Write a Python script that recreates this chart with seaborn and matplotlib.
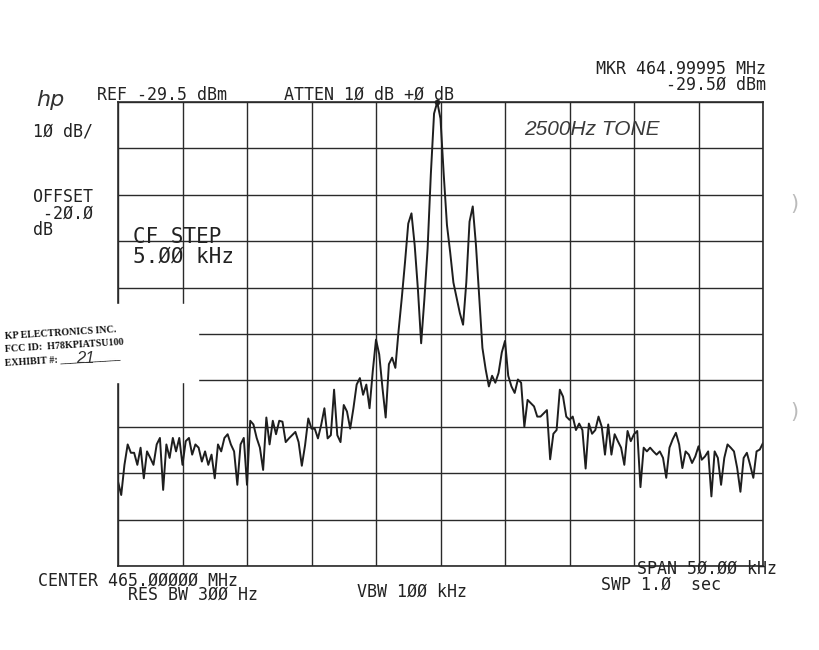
import numpy as np
import pandas as pd
import seaborn as sns
import matplotlib.pyplot as plt
from matplotlib.patches import Rectangle

# --- analyzer settings (from the screen annotations) ---
ref_dbm = -29.5
db_per_div = 10
span_khz = 50.0
n_div = 10

# trace levels in dBm, one point every 0.25 kHz from -25 to +25 kHz
level_dbm = [
    -111.3, -114.2, -107.7, -103.3, -105.1, -105.1, -107.7, -104.0, -110.6, -104.8,
    -106.2, -107.7, -103.3, -101.9, -113.1, -103.3, -106.2, -101.9, -104.8, -101.9,
    -107.7, -102.6, -101.9, -105.5, -103.3, -104.0, -107.0, -104.8, -107.7, -105.5,
    -110.6, -103.3, -104.8, -101.9, -101.1, -103.3, -104.8, -112.0, -103.3, -101.9,
    -112.0, -98.2, -99.0, -101.9, -104.0, -108.8, -97.5, -103.3, -98.2, -101.1,
    -98.2, -98.4, -102.8, -102.0, -101.3, -100.6, -102.8, -107.9, -103.5, -97.7,
    -99.9, -99.9, -102.0, -99.1, -95.5, -102.0, -101.3, -91.5, -101.3, -102.8,
    -94.8, -96.2, -99.9, -95.5, -90.4, -89.0, -92.6, -90.4, -95.5, -87.5,
    -80.7, -83.9, -91.1, -97.5, -86.0, -84.6, -86.8, -78.8, -71.7, -64.0,
    -55.7, -53.5, -60.4, -69.9, -81.5, -72.0, -61.1, -45.1, -32.0, -29.5,
    -33.1, -45.1, -56.0, -61.9, -68.4, -71.7, -75.0, -77.5, -68.4, -55.3,
    -52.0, -60.4, -71.3, -82.5, -87.1, -90.8, -88.5, -90.0, -87.9, -83.5,
    -81.0, -88.5, -90.8, -92.2, -89.3, -90.0, -99.5, -93.7, -94.4, -95.1,
    -97.3, -97.3, -96.6, -95.9, -106.5, -101.0, -100.2, -91.5, -93.0, -97.3,
    -98.0, -97.3, -100.2, -98.8, -100.2, -108.5, -98.8, -101.0, -100.2, -97.3,
    -99.5, -105.5, -99.0, -105.5, -101.1, -102.6, -104.0, -107.7, -100.4, -102.6,
    -101.1, -100.4, -112.5, -104.0, -104.8, -104.0, -104.8, -105.5, -104.8, -106.2,
    -110.5, -104.0, -102.2, -100.8, -103.3, -108.4, -104.8, -105.5, -107.3, -105.9,
    -103.7, -106.6, -105.9, -104.8, -114.5, -104.8, -106.2, -112.0, -106.2, -103.3,
    -104.0, -104.8, -108.4, -113.5, -106.2, -105.1, -107.7, -110.5, -104.8, -104.4,
    -103.0,
]

# sweep points are evenly spaced across the span
freq_khz = np.linspace(-span_khz / 2, span_khz / 2, len(level_dbm))
df = pd.DataFrame({"freq": freq_khz, "level": level_dbm})
pk = df.loc[df.level.idxmax()]

sns.set_style("white")
plt.rcParams["font.family"] = ["DejaVu Sans Mono", "DejaVu Sans"]

W, H = 819, 650
fig = plt.figure(figsize=(W / 100, H / 100), dpi=100)
ax = fig.add_axes([118 / W, 1 - 566 / H, (763 - 118) / W, (566 - 102) / H])

ink = "#1e1e1e"
sns.lineplot(data=df, x="freq", y="level", ax=ax, color=ink, lw=1.4,
             estimator=None, sort=False)
sns.scatterplot(x=[pk.freq], y=[pk.level], ax=ax, color=ink, s=14, zorder=5,
                edgecolor=None, clip_on=False)

ax.set_xlim(-span_khz / 2, span_khz / 2)
ax.set_ylim(ref_dbm - n_div * db_per_div, ref_dbm)
ax.set_xticks(np.linspace(-span_khz / 2, span_khz / 2, n_div + 1))
ax.set_yticks(np.linspace(ref_dbm - n_div * db_per_div, ref_dbm, n_div + 1))
ax.grid(True, color="#2a2a2a", lw=1.0)
ax.tick_params(length=0, labelbottom=False, labelleft=False)
ax.set_xlabel("")
ax.set_ylabel("")
for s in ax.spines.values():
    s.set_color("#2a2a2a")
    s.set_linewidth(1.2)


def put(x, y, txt, **kw):
    kw.setdefault("fontsize", 12)
    kw.setdefault("color", "#222222")
    kw.setdefault("va", "baseline")
    return fig.text(x / W, 1 - y / H, txt, **kw)


# header
put(36, 106, "hp", fontsize=16, style="italic", family="DejaVu Sans", color="#333333")
put(162, 100, "REF -29.5 dBm", ha="center")
put(369, 100, "ATTEN 1Ø dB +Ø dB", ha="center")
put(766, 94, "MKR 464.99995 MHz\n-29.5Ø dBm", ha="right", va="bottom",
    multialignment="right", linespacing=0.84)

# left column
put(33, 137, "1Ø dB/")
put(33, 239, "OFFSET\n -2Ø.Ø\ndB", ha="left", va="bottom",
    multialignment="left", linespacing=0.88)
put(133, 267, "CF STEP\n5.ØØ kHz", fontsize=15, ha="left", va="bottom",
    multialignment="left", linespacing=0.98)

# handwritten note
put(592, 135, "2500Hz TONE", ha="center", fontsize=15, style="italic",
    family="Liberation Sans", color="#3a3a3a")

# footer (two staggered lines in one block, as on the plotter output)
put(38, 604, "CENTER 465.ØØØØØ MHz\n         RES BW 3ØØ Hz", ha="left",
    va="bottom", multialignment="left", linespacing=0.74)
put(412, 597, "VBW 1ØØ kHz", ha="center")
put(777, 574, "SPAN 5Ø.ØØ kHz", ha="right")
put(661, 590, "SWP 1.Ø  sec", ha="center")

# paper marks
put(790, 210, ")", fontsize=15, color="#bbbbbb", family="DejaVu Sans")
put(790, 418, ")", fontsize=15, color="#bbbbbb", family="DejaVu Sans")

# FCC exhibit stamp pasted over the grid corner
fig.patches.append(Rectangle((104 / W, 1 - 382 / H), 94 / W, 78 / H,
                             transform=fig.transFigure, color="white", zorder=4))
stamp = dict(family="Liberation Serif", weight="bold", fontsize=7.2, color="#111111",
             rotation=3.5, rotation_mode="anchor", zorder=6)
put(5, 339, "KP ELECTRONICS INC.", **stamp)
put(5, 352, "FCC ID:  H78KPIATSU100", **stamp)
put(5, 365, "EXHIBIT #: ____________", **stamp)
put(76, 363, "21", fontsize=12, style="italic", family="Liberation Sans",
    color="#333333", zorder=7)

fig.savefig("out.png", dpi=100, facecolor="white")
